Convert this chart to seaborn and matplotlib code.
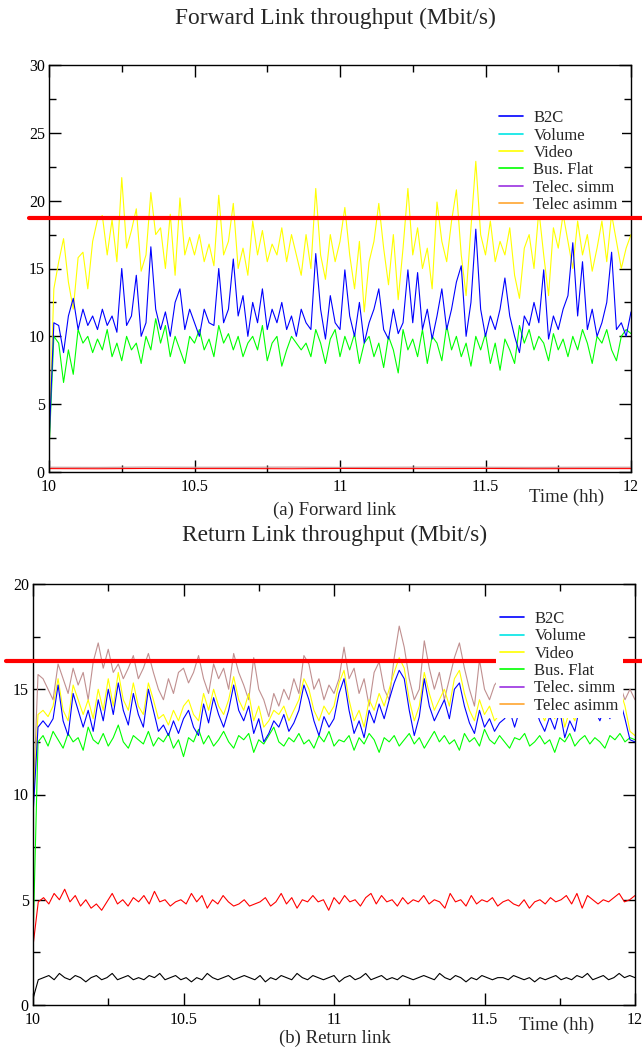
import numpy as np
import pandas as pd
import matplotlib
matplotlib.use("Agg")
import matplotlib.pyplot as plt
import seaborn as sns
from matplotlib.lines import Line2D
from matplotlib.ticker import MultipleLocator, FormatStrFormatter

# ---------------- data ----------------
legend_names = ["B2C", "Volume", "Video", "Bus. Flat", "Telec. simm", "Telec asimm"]
legend_colors = ["#0000ff", "#00e5e5", "#ffff00", "#00ff00", "#9a30e0", "#ffa530"]

fwd_video = [2.0, 13.5, 15.5, 17.2, 14.0, 12.0, 15.8, 16.2, 13.5, 17.0, 18.6, 18.9, 16.0, 18.6, 15.5,
             21.7, 16.5, 17.8, 19.4, 14.8, 16.0, 20.6, 17.5, 18.0, 15.0, 19.0, 14.5, 20.2, 16.0, 17.3,
             16.0, 17.5, 15.5, 16.8, 15.2, 20.4, 16.0, 17.0, 19.8, 15.0, 16.5, 14.5, 18.5, 16.0, 17.8,
             15.5, 16.8, 16.0, 18.0, 15.5, 17.5, 16.0, 14.5, 17.5, 15.0, 20.9, 16.0, 14.2, 17.5, 15.5,
             17.0, 19.5, 16.0, 13.5, 17.0, 11.8, 15.5, 17.0, 19.8, 16.5, 13.8, 17.5, 12.7, 16.5, 20.9,
             16.0, 18.0, 15.0, 16.5, 13.5, 19.9, 17.0, 15.5, 18.5, 20.8, 16.0, 13.0, 18.0, 22.9, 17.5,
             16.0, 18.5, 15.5, 17.0, 16.0, 18.0, 14.5, 12.8, 16.5, 17.5, 15.0, 19.3, 16.0, 13.0, 18.0,
             16.5, 19.0, 17.0, 15.0, 18.5, 16.0, 17.5, 14.8, 16.5, 18.5, 15.5, 19.0, 17.0, 15.0, 16.5,
             17.5]
fwd_b2c = [2.0, 11.0, 10.8, 8.8, 11.5, 12.8, 10.5, 12.0, 10.8, 11.5, 10.5, 12.0, 10.8, 11.5, 10.3,
           15.0, 10.8, 11.5, 14.5, 10.0, 11.0, 16.6, 12.0, 10.5, 11.8, 10.0, 12.5, 13.5, 10.5, 12.0,
           11.0, 10.0, 12.0, 11.0, 10.8, 15.0, 11.0, 12.0, 15.7, 11.5, 13.0, 10.0, 12.5, 11.0, 13.5,
           10.5, 12.0, 11.0, 12.5, 10.5, 11.5, 10.0, 12.0, 11.0, 10.5, 16.1, 12.0, 9.8, 13.0, 11.0,
           10.5, 14.9, 11.5, 10.0, 12.5, 9.5, 11.0, 12.0, 13.5, 10.5, 9.8, 12.0, 10.2, 11.0, 14.9,
           11.0, 14.7, 10.5, 12.0, 9.8, 11.5, 13.5, 10.5, 12.0, 14.0, 15.2, 10.0, 12.5, 17.9, 12.0,
           10.0, 11.5, 10.5, 12.0, 14.3, 11.5, 10.0, 8.8, 11.5, 10.8, 12.5, 11.0, 14.9, 9.8, 11.5,
           10.5, 12.0, 13.0, 16.9, 11.5, 15.5, 10.5, 12.0, 10.0, 11.0, 12.5, 16.2, 10.5, 11.0, 10.0,
           11.8]
fwd_busflat = [1.5, 10.0, 9.5, 6.6, 9.0, 7.2, 10.5, 9.5, 10.0, 8.8, 9.8, 9.0, 10.5, 8.5, 9.5,
               8.2, 10.0, 9.0, 9.5, 8.0, 10.0, 9.0, 11.3, 9.5, 10.8, 8.5, 10.0, 9.0, 8.0, 10.0,
               9.5, 10.5, 9.0, 9.8, 8.5, 10.8, 9.5, 10.2, 9.0, 10.0, 8.5, 9.5, 10.0, 9.0, 10.8,
               8.2, 9.5, 10.0, 7.8, 9.0, 10.0, 9.5, 9.0, 9.5, 8.5, 10.5, 9.5, 8.0, 9.8, 10.5,
               8.5, 10.0, 9.0, 10.2, 8.0, 9.5, 10.0, 8.5, 9.5, 7.7, 10.0, 9.0, 7.3, 10.5, 9.0,
               9.8, 8.5, 10.5, 8.0, 10.0, 9.5, 8.2, 10.8, 9.0, 10.0, 8.5, 9.5, 7.8, 10.0, 9.0,
               10.2, 8.0, 9.5, 7.5, 9.8, 9.0, 8.0, 10.8, 9.5, 10.5, 9.0, 10.0, 9.5, 8.2, 10.2,
               9.0, 9.8, 8.5, 10.0, 9.0, 10.5, 9.5, 8.0, 10.0, 9.5, 10.5, 9.0, 8.2, 10.0, 10.5,
               10.2]
fwd_red = [0.25, 0.24, 0.26, 0.25, 0.25, 0.24, 0.26, 0.25, 0.25, 0.26, 0.24, 0.25, 0.25]
fwd_brown = [0.35, 0.34, 0.36, 0.35, 0.35, 0.36, 0.34, 0.35, 0.36, 0.35, 0.34, 0.35, 0.35]

ret_brown = [9.5, 15.7, 15.5, 15.0, 14.5, 16.2, 15.5, 14.8, 16.0, 15.2, 15.8, 14.5, 16.3, 17.2, 16.0,
             16.9, 15.8, 16.2, 15.5, 16.0, 16.6, 15.5, 16.0, 16.7, 15.8, 15.0, 14.5, 15.5, 14.8, 15.8,
             16.0, 15.3, 15.8, 16.6, 15.5, 14.8, 16.2, 15.5, 16.0, 15.0, 16.7, 15.8, 15.2, 14.5, 16.5,
             15.0, 14.5, 13.7, 14.8, 14.2, 15.0, 14.5, 15.5, 14.8, 16.6, 16.2, 15.0, 15.5, 14.5, 15.2,
             14.8, 15.5, 17.0, 15.5, 16.0, 14.8, 15.5, 14.2, 15.8, 16.3, 15.0, 14.5, 16.5, 18.0, 17.0,
             15.5, 14.5, 15.0, 17.3, 16.0, 15.0, 15.8, 14.5, 15.5, 16.5, 17.2, 16.0, 15.0, 14.2, 16.4,
             15.0, 14.5, 15.2, 15.5, 15.8, 16.2, 15.5, 16.0, 15.4, 16.3, 15.6, 15.2, 16.0, 15.5, 16.4,
             15.8, 15.3, 16.1, 15.6, 15.9, 15.2, 16.2, 15.7, 15.4, 16.0, 15.5, 16.0, 15.2, 14.5, 15.0,
             14.5]
ret_video = [9.5, 13.8, 14.0, 13.7, 14.2, 15.5, 14.0, 13.5, 15.2, 14.5, 13.8, 14.5, 13.6, 15.0, 14.0,
             15.5, 14.2, 15.8, 14.5, 14.0, 15.3, 14.2, 13.8, 15.3, 14.5, 13.6, 13.8, 13.3, 14.0, 13.5,
             14.2, 14.5, 13.8, 13.5, 14.8, 14.0, 15.0, 14.2, 13.8, 14.5, 15.6, 14.5, 14.0, 14.8, 13.5,
             14.2, 13.2, 13.5, 14.0, 13.8, 14.2, 13.5, 14.0, 14.5, 15.5, 15.0, 14.0, 13.5, 14.2, 13.8,
             14.2, 15.3, 15.9, 14.5, 13.5, 14.0, 13.2, 14.5, 14.0, 14.8, 14.2, 15.0, 15.8, 16.5, 16.0,
             14.5, 13.5, 14.2, 15.8, 14.8, 14.0, 14.5, 15.0, 14.2, 15.5, 15.9, 14.8, 14.0, 13.5, 14.5,
             13.8, 14.2, 13.5, 13.8, 14.0, 14.5, 13.8, 14.5, 15.0, 14.2, 14.8, 14.0, 13.5, 14.2, 13.6,
             14.5, 13.2, 14.0, 13.5, 14.8, 14.2, 15.0, 14.5, 14.0, 14.8, 14.2, 15.5, 15.0, 14.2, 13.0,
             12.8]
ret_b2c = [9.0, 13.2, 13.5, 13.2, 13.6, 15.2, 13.5, 12.8, 14.8, 14.0, 13.2, 14.0, 13.0, 14.5, 13.5,
           15.0, 13.8, 15.3, 14.0, 13.3, 14.8, 13.8, 13.2, 15.0, 14.0, 13.0, 13.3, 12.8, 13.5, 12.9,
           13.6, 14.0, 13.2, 12.8, 14.3, 13.4, 14.6, 13.8, 13.2, 14.0, 15.2, 14.0, 13.5, 14.2, 12.9,
           13.6, 12.5, 12.9, 13.5, 13.2, 13.8, 13.0, 13.4, 14.0, 15.2, 14.5, 13.5, 12.8, 13.7, 13.2,
           13.6, 14.8, 15.5, 14.0, 12.9, 13.5, 12.7, 14.0, 13.4, 14.3, 13.6, 14.5, 15.3, 15.9, 15.5,
           14.0, 12.8, 13.7, 15.5, 14.2, 13.5, 14.0, 14.5, 13.6, 15.0, 15.3, 14.2, 13.4, 12.9, 14.0,
           13.2, 13.6, 13.0, 13.4, 13.6, 14.0, 13.2, 14.0, 14.5, 13.7, 14.2, 13.5, 13.0, 13.7, 13.1,
           14.0, 12.7, 13.5, 13.0, 14.2, 13.7, 14.5, 14.0, 13.5, 14.2, 13.6, 15.0, 14.5, 13.6, 12.6,
           12.5]
ret_busflat = [3.0, 12.5, 12.8, 12.3, 13.0, 12.6, 12.2, 12.9, 12.5, 12.7, 12.1, 13.2, 12.6, 12.4, 12.9,
               12.3, 12.7, 13.3, 12.5, 12.2, 12.8, 12.6, 12.4, 13.0, 12.3, 12.7, 12.5, 12.9, 12.2, 12.6,
               11.8, 12.7, 12.5, 13.1, 12.4, 12.8, 12.3, 12.6, 13.0, 12.5, 12.2, 12.8, 12.6, 12.9, 12.0,
               12.6, 12.4, 12.8, 13.2, 12.5, 12.3, 12.7, 12.5, 12.9, 12.4, 12.6, 12.2, 12.8, 12.5, 13.0,
               12.3, 12.6, 12.5, 12.8, 12.1, 12.7, 12.4, 12.9, 12.6, 12.0, 12.7, 12.5, 12.8, 12.3, 12.6,
               12.9, 12.4, 12.7, 12.2, 12.6, 13.0, 12.5, 12.8, 12.4, 12.6, 12.1, 12.9, 12.5, 12.7, 12.3,
               13.1, 12.6, 12.4, 12.8, 12.5, 12.2, 12.7, 12.6, 12.9, 12.3, 12.5, 12.8, 12.4, 12.6, 12.0,
               12.7, 12.5, 12.9, 12.3, 12.6, 12.8, 12.4, 12.7, 12.5, 12.2, 12.8, 12.6, 12.9, 12.5, 12.7,
               12.6]
ret_red = [2.8, 4.9, 5.1, 4.8, 5.3, 5.0, 5.5, 4.9, 5.2, 4.7, 5.0, 4.6, 4.8, 4.5, 4.9, 5.3, 4.8, 5.0,
           4.7, 5.1, 4.9, 5.2, 4.8, 5.4, 4.9, 5.0, 4.7, 4.9, 5.0, 4.8, 5.3, 4.9, 5.2, 4.6, 5.0, 4.8,
           5.2, 4.9, 4.7, 4.8, 5.0, 4.7, 4.8, 4.9, 5.1, 4.7, 4.9, 5.3, 4.8, 5.1, 4.6, 5.0, 4.9, 5.2,
           4.9, 5.0, 4.5, 5.1, 4.8, 5.2, 4.9, 5.0, 4.7, 5.1, 5.3, 4.8, 5.2, 4.9, 5.0, 4.7, 5.1, 4.8,
           5.0, 4.9, 5.2, 4.8, 5.0, 4.9, 4.6, 5.3, 4.9, 5.0, 4.7, 5.2, 4.8, 5.0, 4.9, 5.1, 4.7, 4.9,
           5.0, 4.8, 4.7, 5.0, 4.6, 4.9, 5.0, 4.8, 5.1, 4.9, 5.0, 5.2, 4.8, 5.3, 4.6, 5.2, 5.0, 4.8,
           5.0, 4.9, 5.1, 5.3, 4.9, 5.0, 5.2]
ret_black = [0.3, 1.2, 1.3, 1.4, 1.2, 1.5, 1.3, 1.2, 1.4, 1.3, 1.1, 1.3, 1.4, 1.2, 1.3, 1.5, 1.2, 1.3,
             1.4, 1.2, 1.3, 1.2, 1.4, 1.3, 1.5, 1.2, 1.3, 1.4, 1.2, 1.3, 1.1, 1.3, 1.2, 1.5, 1.3, 1.2,
             1.3, 1.4, 1.2, 1.3, 1.4, 1.3, 1.2, 1.4, 1.1, 1.3, 1.2, 1.4, 1.3, 1.2, 1.5, 1.3, 1.2, 1.4,
             1.3, 1.2, 1.3, 1.4, 1.1, 1.3, 1.4, 1.2, 1.3, 1.5, 1.2, 1.3, 1.4, 1.2, 1.3, 1.2, 1.4, 1.3,
             1.2, 1.3, 1.4, 1.3, 1.2, 1.5, 1.3, 1.2, 1.4, 1.3, 1.1, 1.3, 1.2, 1.4, 1.3, 1.2, 1.3, 1.3,
             1.2, 1.4, 1.3, 1.2, 1.3, 1.1, 1.3, 1.2, 1.3, 1.4, 1.2, 1.3, 1.2, 1.4, 1.3, 1.5, 1.2, 1.3,
             1.4, 1.2, 1.3, 1.5, 1.3, 1.4, 1.3]

fwd_capacity = 18.75
ret_capacity = 16.35

fwd_series = [("red", fwd_red, "#ff0000"), ("brown", fwd_brown, "#c89090"),
              ("Bus. Flat", fwd_busflat, "#00ff00"), ("Video", fwd_video, "#ffff00"),
              ("B2C", fwd_b2c, "#0000ff")]
ret_series = [("black", ret_black, "#000000"), ("red", ret_red, "#ff0000"),
              ("Bus. Flat", ret_busflat, "#00ff00"), ("brown", ret_brown, "#c09090"),
              ("Video", ret_video, "#ffff00"), ("B2C", ret_b2c, "#0000ff")]


def long_df(series):
    frames = []
    for name, vals, _ in series:
        n = len(vals)
        frames.append(pd.DataFrame({"t": 10 + 2.0 * np.arange(n) / (n - 1),
                                    "v": vals, "series": name}))
    return pd.concat(frames, ignore_index=True)


# ---------------- style ----------------
sns.set_style("ticks")
plt.rcParams["font.family"] = ["Liberation Serif", "DejaVu Serif"]
plt.rcParams["axes.linewidth"] = 1.0

W, H = 642, 1053
fig = plt.figure(figsize=(W / 100, H / 100), dpi=100)


def make_axes(l, r, t, b):
    return fig.add_axes([l / W, 1 - b / H, (r - l) / W, (b - t) / H])


ax1 = make_axes(49, 631, 65, 472)
ax2 = make_axes(33, 635, 584, 1005)


def style_axes(ax, ymax):
    ax.set_xlim(10, 12)
    ax.set_ylim(0, ymax)
    ax.xaxis.set_major_locator(MultipleLocator(0.5))
    ax.xaxis.set_minor_locator(MultipleLocator(0.25))
    ax.yaxis.set_major_locator(MultipleLocator(5))
    ax.yaxis.set_minor_locator(MultipleLocator(2.5))
    ax.xaxis.set_major_formatter(FormatStrFormatter("%g"))
    ax.yaxis.set_major_formatter(FormatStrFormatter("%g"))
    ax.tick_params(which="both", direction="in", top=True, right=True, colors="black",
                   labelsize=11.5, width=1.0)
    ax.tick_params(which="major", length=8.5)
    ax.tick_params(which="minor", length=5)
    ax.tick_params(axis="x", pad=5)
    ax.tick_params(axis="y", pad=3)
    ax.set_xlabel("")
    ax.set_ylabel("")
    for s in ax.spines.values():
        s.set_color("black")
        s.set_visible(True)


# the forward-link capacity line stays fully visible; the return-link one is hidden by the legend
for ax, series, ymax, cap, xmin, xmax, capz in [
        (ax1, fwd_series, 30, fwd_capacity, -0.034, 1.02, 11),
        (ax2, ret_series, 20, ret_capacity, -0.045, 1.02, 3)]:
    df = long_df(series)
    pal = {name: c for name, _, c in series}
    sns.lineplot(data=df, x="t", y="v", hue="series", hue_order=[s[0] for s in series],
                 palette=pal, ax=ax, legend=False, estimator=None, sort=False,
                 linewidth=0.8)
    style_axes(ax, ymax)
    ax.axhline(cap, xmin=xmin, xmax=xmax, color="#ff0000", linewidth=3.0,
               clip_on=False, zorder=capz)
    handles = [Line2D([0], [0], color=c, lw=1.2) for c in legend_colors]
    ax.legend(handles, legend_names, loc="upper left", frameon=True,
              facecolor="white", edgecolor="none", framealpha=1.0, fontsize=12,
              handlelength=1.45, handletextpad=0.6, labelspacing=0.08,
              borderpad=0.25, borderaxespad=0.0, fancybox=False)

# place legends in figure pixel coordinates
leg1 = ax1.get_legend()
leg1.set_bbox_to_anchor((495 / W, 1 - 106 / H), transform=fig.transFigure)
leg2 = ax2.get_legend()
leg2.set_bbox_to_anchor((496 / W, 1 - 607 / H), transform=fig.transFigure)
for leg in (leg1, leg2):
    leg.set_zorder(10)

# texts
fig.text(335 / W, 1 - 18 / H, "Forward Link throughput (Mbit/s)", ha="center", va="center", fontsize=16.8)
fig.text(335 / W, 1 - 510 / H, "(a) Forward link", ha="center", va="center", fontsize=13.5)
fig.text(567 / W, 1 - 497 / H, "Time (hh)", ha="center", va="center", fontsize=13.5)
fig.text(335 / W, 1 - 535 / H, "Return Link throughput (Mbit/s)", ha="center", va="center", fontsize=16.8)
fig.text(335 / W, 1 - 1038 / H, "(b) Return link", ha="center", va="center", fontsize=13.5)
fig.text(557 / W, 1 - 1025 / H, "Time (hh)", ha="center", va="center", fontsize=13.5)

fig.savefig("out.png", dpi=100)
